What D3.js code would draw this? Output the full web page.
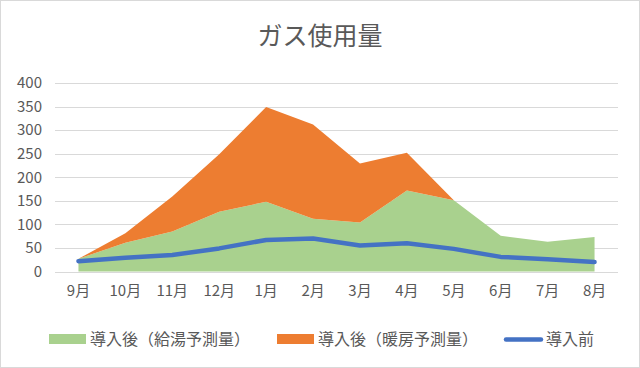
<!DOCTYPE html>
<html><head><meta charset="utf-8">
<script src="https://cdn.jsdelivr.net/npm/d3@7"></script>
<style>body{margin:0;background:#fff}svg{display:block}</style>
</head><body>
<script>
const months = ["9月","10月","11月","12月","1月","2月","3月","4月","5月","6月","7月","8月"];
const hotWater = [27, 61, 85, 127, 148, 112, 104, 172, 151, 76, 63, 73];
const heating = [0, 20, 74, 122, 201, 200, 125, 80, 0, 0, 0, 0];
const before = [22, 29, 35, 49, 67, 70, 55, 60, 48, 31, 26, 20];
const yTicks = [0, 50, 100, 150, 200, 250, 300, 350, 400];
const seriesNames = ["導入後（給湯予測量）", "導入後（暖房予測量）", "導入前"];

(function () {
const W = 640, H = 368;
const font = "'Noto Sans CJK JP', 'Noto Sans', sans-serif";
const svg = d3.select("body").append("svg").attr("width", W).attr("height", H);
svg.append("rect").attr("x", 0.5).attr("y", 0.5).attr("width", W - 1).attr("height", H - 1)
  .attr("fill", "#fff").attr("stroke", "#D9D9D9");

const pL = 55, pR = 618, pT = 83, pB = 271.5;
const x = d3.scaleBand().domain(months).range([pL, pR]);
const y = d3.scaleLinear().domain([0, 400]).range([pB, pT]);
const cx = m => x(m) + x.bandwidth() / 2;

svg.append("text").attr("x", 320).attr("y", 45).attr("text-anchor", "middle")
  .attr("font-family", font).attr("font-size", 25).attr("fill", "#595959").text("ガス使用量");

// grid
svg.append("g").selectAll("line").data(yTicks).join("line")
  .attr("x1", pL).attr("x2", pR).attr("y1", d => Math.round(y(d)) + 0.5).attr("y2", d => Math.round(y(d)) + 0.5)
  .attr("stroke", "#D9D9D9").attr("stroke-width", 1);

// stacked areas
const data = months.map((m, i) => ({m, hw: hotWater[i], ht: heating[i], b: before[i]}));
const stack = d3.stack().keys(["hw", "ht"])(data);
const area = d3.area().x(d => cx(d.data.m)).y0(d => y(d[0])).y1(d => y(d[1]));
const colors = ["#A9D18E", "#ED7D31"];
svg.append("g").selectAll("path").data(stack).join("path")
  .attr("d", area).attr("fill", (d, i) => colors[i]);

const line = d3.line().x(d => cx(d.m)).y(d => y(d.b));
svg.append("path").datum(data).attr("d", line).attr("fill", "none")
  .attr("stroke", "#4472C4").attr("stroke-width", 4.5).attr("stroke-linecap", "round").attr("stroke-linejoin", "round");

// axes
const yAxis = d3.axisLeft(y).tickValues(yTicks).tickSize(0).tickPadding(8);
const ya = svg.append("g").attr("transform", `translate(${pL - 5},0)`).call(yAxis);
ya.select(".domain").remove();
ya.selectAll("text").attr("font-family", font).attr("font-size", 15).attr("fill", "#595959");

const xAxis = d3.axisBottom(x).tickSize(0).tickPadding(14);
const xa = svg.append("g").attr("transform", `translate(0,${pB})`).call(xAxis);
xa.select(".domain").remove();
xa.selectAll("text").attr("font-family", font).attr("font-size", 15).attr("fill", "#595959");

// legend
const lg = svg.append("g").attr("font-family", font).attr("font-size", 16).attr("fill", "#595959");
const lx = [49, 277, 504];
[0, 1].forEach(i => {
  lg.append("rect").attr("x", lx[i]).attr("y", 334).attr("width", 37).attr("height", 10).attr("fill", colors[i]);
  lg.append("text").attr("x", lx[i] + 41).attr("y", 345).text(seriesNames[i]);
});
lg.append("line").attr("x1", lx[2] + 2).attr("x2", lx[2] + 37).attr("y1", 339.5).attr("y2", 339.5)
  .attr("stroke", "#4472C4").attr("stroke-width", 4.5).attr("stroke-linecap", "round");
lg.append("text").attr("x", lx[2] + 42).attr("y", 345).text(seriesNames[2]);
})();
</script>
</body></html>
